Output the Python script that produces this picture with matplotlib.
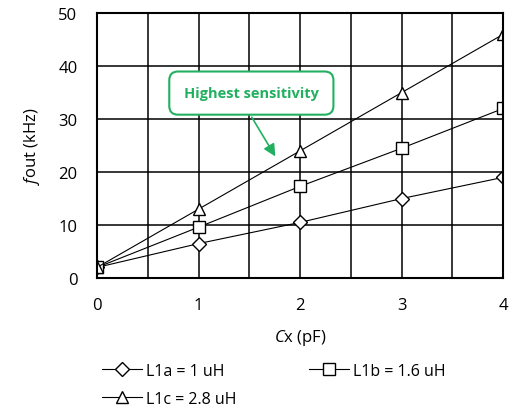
import matplotlib
matplotlib.use("Agg")
import matplotlib.pyplot as plt

cx = [0, 1, 2, 3, 4]
l1a = [2.0, 6.5, 10.5, 15.0, 19.0]
l1b = [2.0, 9.6, 17.3, 24.5, 32.0]
l1c = [2.0, 13.0, 24.0, 35.0, 46.0]
labels = ["L1a = 1 uH", "L1b = 1.6 uH", "L1c = 2.8 uH"]

plt.rcParams["font.family"] = ["Open Sans", "DejaVu Sans"]
plt.rcParams["mathtext.fontset"] = "custom"
plt.rcParams["mathtext.rm"] = "Open Sans"
plt.rcParams["mathtext.it"] = "Open Sans:italic"

fig = plt.figure(figsize=(5.13, 4.14), dpi=100)
ax = fig.add_axes([0.189, 0.326, 0.792, 0.640])

mk = dict(color="black", linewidth=0.8, markerfacecolor="white",
          markeredgecolor="black", markeredgewidth=1.0, markersize=9)
ha, = ax.plot(cx, l1a, marker="D", label=labels[0], **{**mk, "markersize": 7})
hb, = ax.plot(cx, l1b, marker="s", label=labels[1], **mk)
hc, = ax.plot(cx, l1c, marker="^", label=labels[2], **mk)

ax.set_xlim(0, 4)
ax.set_ylim(0, 50)
ax.set_xticks([0, 1, 2, 3, 4])
ax.set_xticks([0.5, 1.5, 2.5, 3.5], minor=True)
ax.set_yticks(range(0, 51, 10))
ax.grid(True, which="both", color="black", linewidth=1.1)
ax.set_axisbelow(True)
ax.tick_params(which="both", length=0, labelsize=12)
ax.tick_params(axis="x", pad=14)
ax.tick_params(axis="y", pad=14)
for s in ax.spines.values():
    s.set_linewidth(1.5)

ax.set_xlabel(r"$\mathit{C}$x (pF)", fontsize=12, labelpad=10)
ax.set_ylabel(r"$\mathit{f}$out (kHz)", fontsize=12, labelpad=12)

green = "#22b060"
ax.annotate("", xy=(1.77, 22.5), xytext=(1.51, 30.8),
            arrowprops=dict(arrowstyle="-|>", color=green, lw=1.2,
                            mutation_scale=18))
ax.text(1.52, 34.9, "Highest sensitivity", ha="center", va="center",
        fontsize=10.5, fontweight="bold", color=green,
        bbox=dict(boxstyle="round,pad=1.0,rounding_size=0.6",
                  facecolor="white", edgecolor=green, linewidth=1.5))

fig.legend([ha, hc, hb], [labels[0], labels[2], labels[1]],
           loc="lower left", bbox_to_anchor=(0.17, -0.02), ncol=2,
           frameon=False, fontsize=11.5, handlelength=2.5,
           columnspacing=4.5, handletextpad=0.3, labelspacing=0.75)

fig.savefig("out.png", dpi=100)
